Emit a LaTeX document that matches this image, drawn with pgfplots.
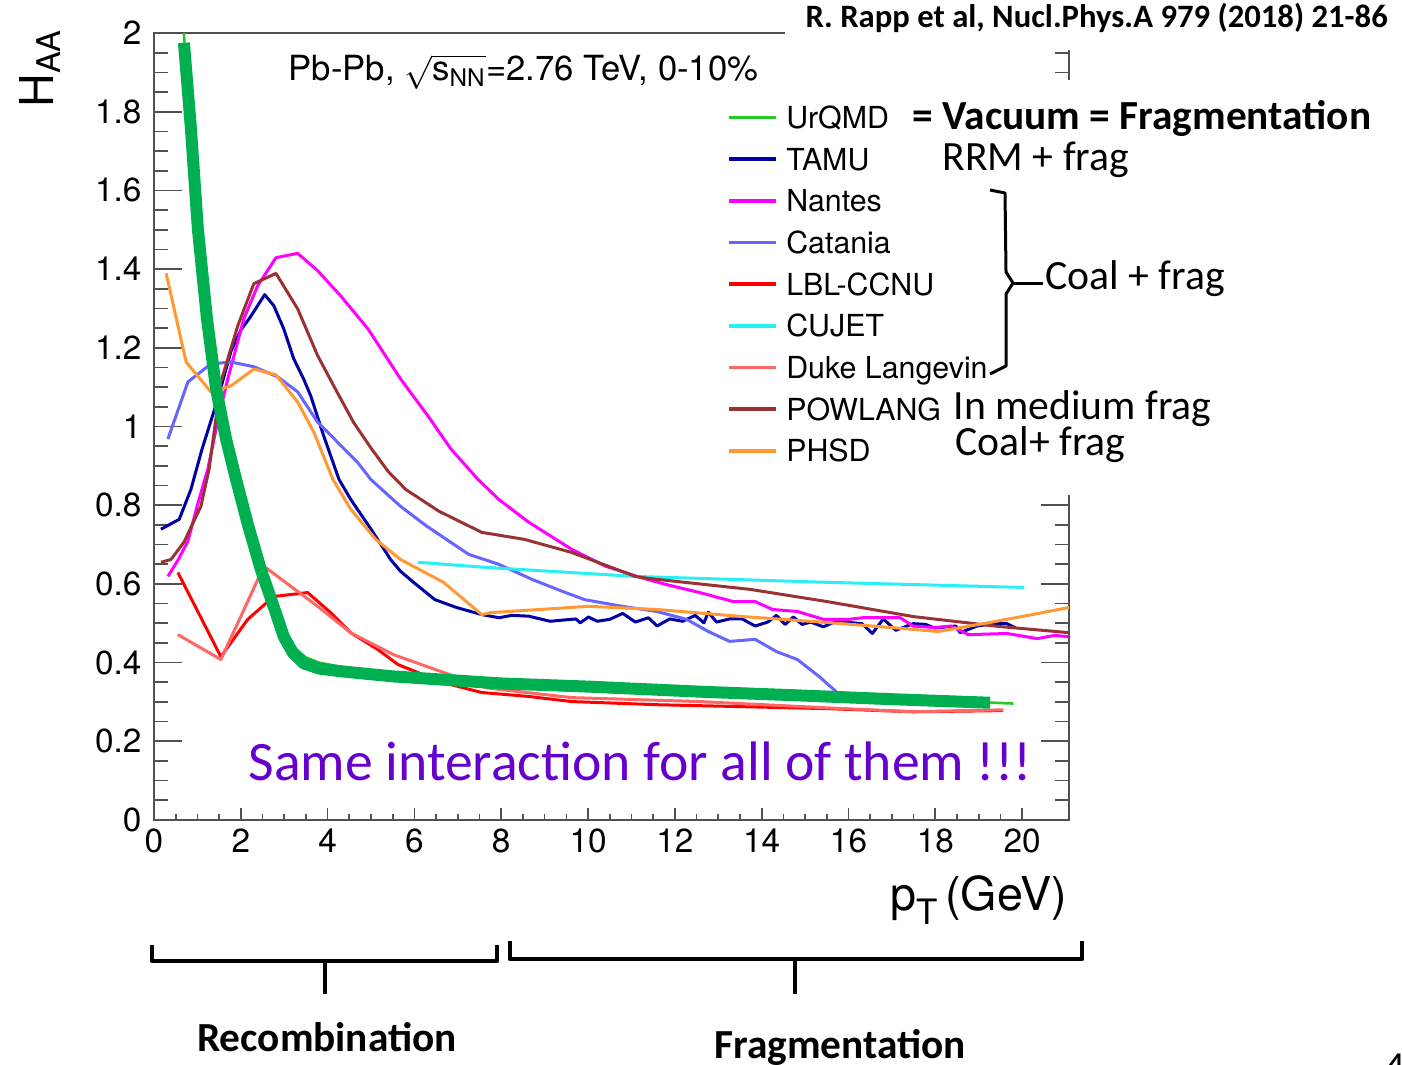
\documentclass[border=0pt]{standalone}
\usepackage{fontspec}
\usepackage{amsmath}
\usepackage{pgfplots}
\pgfplotsset{compat=1.18}
\setmainfont{TeX Gyre Heros}
\newfontfamily\calibri{Carlito}
\definecolor{cUrQMD}{RGB}{40,200,40}
\definecolor{cTAMU}{RGB}{0,0,165}
\definecolor{cNantes}{RGB}{255,0,255}
\definecolor{cCatania}{RGB}{102,102,255}
\definecolor{cLBL}{RGB}{255,0,0}
\definecolor{cCUJET}{RGB}{40,240,245}
\definecolor{cDuke}{RGB}{255,102,102}
\definecolor{cPOW}{RGB}{153,51,51}
\definecolor{cPHSD}{RGB}{255,153,51}
\definecolor{bandgreen}{RGB}{0,176,80}
\definecolor{purp}{RGB}{102,0,204}
\definecolor{axgray}{RGB}{80,80,80}
\begin{document}
\begin{tikzpicture}
\begin{axis}[
  at={(46.2pt,-246pt)}, anchor=south west,
  scale only axis, width=274.5pt, height=236.1pt,
  set layers, clip=false,
  xmin=0, xmax=21.08, ymin=0, ymax=2,
  xtick={0,2,4,6,8,10,12,14,16,18,20},
  ytick={0,0.2,0.4,0.6,0.8,1,1.2,1.4,1.6,1.8,2},
  minor x tick num=3, minor y tick num=3,
  xtick pos=left, ytick pos=both, tick align=inside,
  axis line style={draw=axgray, line width=0.6pt},
  every tick/.style={axgray, line width=0.5pt},
  xtick style={/pgfplots/major tick length=3.5pt, /pgfplots/minor tick length=1.9pt},
  ytick style={/pgfplots/major tick length=8.4pt, /pgfplots/minor tick length=4.2pt},
  /pgf/number format/assume math mode=true,
  tick label style={font=\fontsize{10}{12}\selectfont},
  yticklabel style={anchor=east, inner sep=0pt, xshift=-3.6pt},
  xticklabel style={anchor=north, inner sep=0pt, yshift=-2.4pt},
  xlabel={p\raisebox{-0.6ex}{\fontsize{10.5}{12}\selectfont T}\,(GeV)},
  xlabel style={at={(axis description cs:0.9989,-0.1144)}, anchor=base east, inner sep=0pt, font=\fontsize{14}{16}\selectfont},
  ylabel={H\textsubscript{AA}},
  ylabel style={at={(axis description cs:-0.1246,0.9555)}, anchor=center, inner sep=0pt, font=\fontsize{14}{16}\selectfont},
  legend cell align=left,
  legend style={at={(axis description cs:0.6262,0.909)}, anchor=north west, draw=none, fill=none,
    inner sep=0pt, row sep=3.3pt, column sep=2.4pt, font=\fontsize{9.1}{11}\selectfont,
    nodes={inner sep=0pt, text height=7pt, text depth=2.2pt}},
  legend image code/.code={\draw[#1, line width=1.1pt] (0pt,0.9pt) -- (14.1pt,0.9pt);},
  every axis plot/.append style={line width=0.9pt, line join=round},
]
\fill[white] (axis cs:14.54,2.25) rectangle (axis cs:30,1.957);
\fill[white] (axis cs:12.86,1.881) rectangle (axis cs:30,0.826);

\addplot[cUrQMD, line width=0.8pt] coordinates {(0.69,2.0) (0.72,1.93) (0.85,1.76) (1.01,1.505) (1.22,1.276) (1.43,1.098) (1.66,0.97) (1.89,0.868) (2.16,0.754) (2.46,0.639) (2.74,0.55) (2.99,0.478) (3.25,0.436) (3.5,0.413) (3.8,0.4) (4.2,0.391) (5,0.379) (6,0.368) (8,0.352) (10,0.343) (12,0.333) (14,0.323) (16,0.314) (18,0.304) (19.8,0.296)};
\addlegendentry{UrQMD}

\addplot[cTAMU] coordinates {(0.16,0.739) (0.58,0.764) (0.85,0.84) (1.1,0.94) (1.47,1.07) (1.77,1.19) (2.0,1.245) (2.23,1.28) (2.55,1.335) (2.76,1.307) (2.99,1.248) (3.22,1.172) (3.45,1.12) (3.61,1.078) (3.91,0.976) (4.26,0.866) (4.53,0.815) (5.0,0.739) (5.45,0.662) (5.68,0.632) (5.98,0.604) (6.47,0.56) (6.97,0.54) (7.55,0.522) (7.95,0.514) (8.24,0.520) (8.63,0.518) (9.13,0.505) (9.42,0.508) (9.72,0.511) (9.82,0.501) (10.01,0.516) (10.21,0.505) (10.50,0.510) (10.80,0.525) (11.09,0.503) (11.39,0.514) (11.59,0.493) (11.88,0.511) (12.18,0.505) (12.47,0.520) (12.67,0.501) (12.77,0.528) (12.96,0.503) (13.26,0.511) (13.55,0.511) (13.85,0.493) (14.14,0.503) (14.34,0.520) (14.54,0.497) (14.73,0.516) (14.93,0.497) (15.13,0.503) (15.42,0.491) (15.72,0.505) (16.11,0.501) (16.31,0.499) (16.55,0.474) (16.80,0.511) (17.09,0.482) (17.49,0.499) (17.78,0.497) (17.98,0.488) (18.47,0.493) (18.57,0.476) (18.96,0.493) (19.36,0.499) (19.65,0.499) (19.85,0.488)};
\addlegendentry{TAMU}

\addplot[cNantes] coordinates {(0.32,0.619) (0.55,0.66) (0.78,0.708) (1.0,0.80) (1.24,0.892) (1.5,1.03) (1.70,1.121) (2.07,1.274) (2.39,1.358) (2.81,1.429) (3.31,1.44) (3.77,1.396) (4.30,1.332) (4.93,1.248) (5.68,1.121) (6.31,1.027) (6.84,0.943) (7.46,0.866) (7.94,0.815) (8.63,0.757) (9.62,0.688) (10.40,0.645) (11.19,0.617) (11.78,0.599) (12.57,0.578) (13.35,0.555) (13.85,0.555) (14.25,0.535) (14.82,0.530) (15.42,0.510) (16.02,0.510) (16.32,0.514) (17.19,0.514) (17.49,0.493) (17.98,0.489) (18.37,0.493) (18.76,0.471) (19.65,0.474) (20.35,0.461) (20.74,0.469) (21.08,0.466)};
\addlegendentry{Nantes}

\addplot[cCatania] coordinates {(0.32,0.968) (0.78,1.113) (1.31,1.159) (1.77,1.164) (2.30,1.152) (2.85,1.126) (3.31,1.088) (3.77,1.011) (4.23,0.960) (4.69,0.909) (4.99,0.866) (5.68,0.797) (6.28,0.747) (7.25,0.675) (7.94,0.650) (8.72,0.611) (9.41,0.581) (9.92,0.560) (10.79,0.543) (11.58,0.530) (12.27,0.510) (12.77,0.479) (13.26,0.454) (13.85,0.459) (14.34,0.428) (14.82,0.408) (15.33,0.364) (15.72,0.326)};
\addlegendentry{Catania}

\addplot[cLBL] coordinates {(0.55,0.629) (1.54,0.415) (2.16,0.510) (2.76,0.568) (3.54,0.578) (4.07,0.527) (4.53,0.476) (5.16,0.433) (5.62,0.395) (6.21,0.369) (6.84,0.344) (7.55,0.324) (8.63,0.314) (9.62,0.301) (11.58,0.293) (13.56,0.288) (15.51,0.283) (17.49,0.275) (19.56,0.278)};
\addlegendentry{LBL-CCNU}

\addplot[cCUJET] coordinates {(6.08,0.655) (7.64,0.642) (11.09,0.619) (15.51,0.604) (20.05,0.591)};
\addlegendentry{CUJET}

\addplot[cDuke] coordinates {(0.55,0.471) (1.54,0.408) (2.0,0.517) (2.53,0.645) (3.15,0.594) (3.77,0.543) (4.53,0.476) (5.52,0.420) (6.8,0.37) (7.64,0.336) (9.62,0.311) (12.57,0.301) (15.51,0.285) (17.49,0.275) (19.56,0.280)};
\addlegendentry{Duke Langevin}

\addplot[cPOW] coordinates {(0.16,0.655) (0.39,0.662) (0.69,0.706) (1.08,0.797) (1.27,0.892) (1.54,1.113) (1.93,1.256) (2.30,1.363) (2.81,1.389) (3.31,1.299) (3.77,1.180) (4.23,1.085) (4.6,1.01) (5.0,0.945) (5.4,0.885) (5.8,0.84) (6.56,0.785) (7.55,0.731) (8.54,0.713) (9.62,0.680) (11.09,0.619) (11.39,0.614) (13.74,0.586) (15.51,0.555) (17.49,0.517) (19.45,0.492) (21.08,0.476)};
\addlegendentry{POWLANG}

\addplot[cPHSD] coordinates {(0.28,1.389) (0.74,1.164) (1.31,1.088) (1.77,1.103) (2.30,1.146) (2.81,1.131) (3.31,1.062) (3.68,0.986) (4.12,0.866) (4.53,0.790) (5.11,0.713) (5.68,0.662) (6.67,0.604) (7.55,0.522) (7.76,0.527) (10.01,0.543) (11.58,0.535) (13.56,0.517) (15.51,0.502) (16.99,0.489) (18.07,0.479) (19.26,0.502) (20.23,0.522) (21.08,0.540)};
\addlegendentry{PHSD}

\addplot[bandgreen, line width=3.6pt, line cap=butt, forget plot] coordinates {(0.69,1.975) (0.85,1.758) (1.01,1.503) (1.22,1.274) (1.43,1.096) (1.66,0.968) (1.89,0.866) (2.16,0.752) (2.46,0.637) (2.74,0.548) (2.99,0.466) (3.2,0.425) (3.45,0.398) (3.8,0.385) (4.3,0.378) (5.5,0.365) (8,0.347) (10,0.339) (12.6,0.326) (15,0.316) (17,0.307) (19.26,0.298)};

\node[anchor=base west, inner sep=0pt, font=\fontsize{10.4}{12}\selectfont] at (axis cs:3.09,1.88) {Pb-Pb, $\sqrt{\text{s}_{\text{NN}}}$=2.76 TeV, 0-10\%};
\end{axis}
\begin{scope}[x=0.3pt,y=-0.3pt]
\node[anchor=base west, inner sep=0pt] at (805,28) {\calibri\bfseries\fontsize{9.8}{12}\selectfont R. Rapp et al, Nucl.Phys.A 979 (2018) 21-86};
\node[anchor=base west, inner sep=0pt] at (912,130) {\calibri\bfseries\fontsize{12.4}{14}\selectfont = Vacuum = Fragmentation};
\node[anchor=base west, inner sep=0pt] at (942,170) {\calibri\fontsize{12.5}{14}\selectfont RRM + frag};
\node[anchor=base west, inner sep=0pt] at (1045,289) {\calibri\fontsize{12.5}{14}\selectfont Coal + frag};
\node[anchor=base west, inner sep=0pt] at (953,419) {\calibri\fontsize{12.5}{14}\selectfont In medium frag};
\node[anchor=base west, inner sep=0pt] at (955,455) {\calibri\fontsize{12.5}{14}\selectfont Coal+ frag};
\draw[line width=0.9pt, line join=round] (990,190) -- (1005,193) -- (1006,272) -- (1013,283) -- (1006,294) -- (1006,366) -- (990,374);
\draw[line width=0.9pt] (1013,283) -- (1043,283);
\node[anchor=base west, inner sep=0pt, text=purp] at (248,780) {\calibri\fontsize{16.7}{19}\selectfont Same interaction for all of them !!!};
\draw[line width=1.3pt, line join=round] (152,945) -- (152,961) -- (497,961) -- (497,945);
\draw[line width=1.3pt] (325,961) -- (325,994);
\draw[line width=1.3pt, line join=round] (510,941) -- (510,959) -- (1082,959) -- (1082,941);
\draw[line width=1.3pt] (795,959) -- (795,994);
\node[anchor=base, inner sep=0pt] at (327,1051) {\calibri\bfseries\fontsize{12.4}{14}\selectfont Recombination};
\node[anchor=base, inner sep=0pt] at (840,1058) {\calibri\bfseries\fontsize{12.4}{14}\selectfont Fragmentation};
\node[anchor=base west, inner sep=0pt] at (1384,1080) {\calibri\fontsize{12.4}{14}\selectfont 4};
\pgfresetboundingbox
\path[use as bounding box] (0,0) rectangle (1402,1064);
\end{scope}
\end{tikzpicture}
\end{document}
